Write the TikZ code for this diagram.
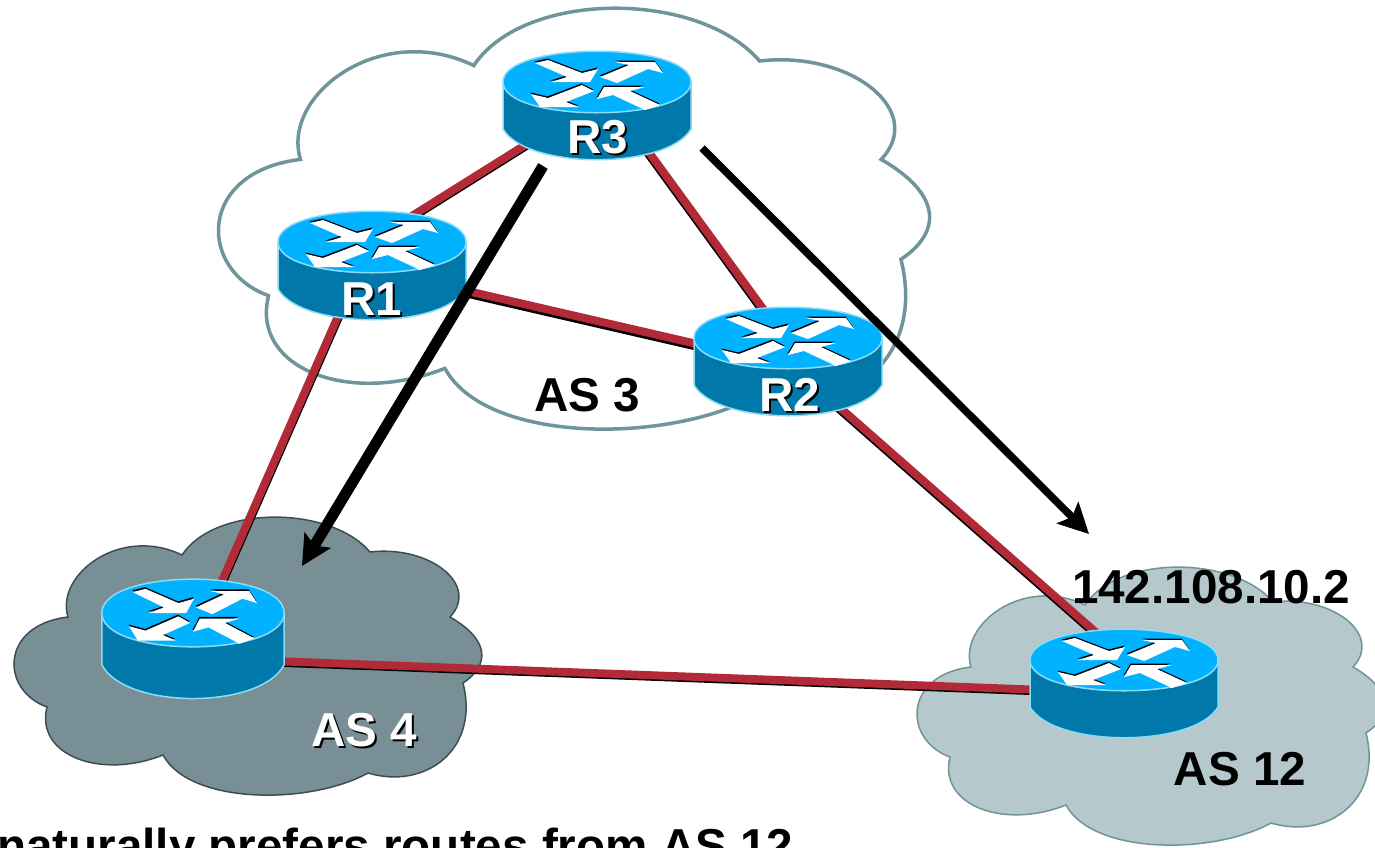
\documentclass[tikz,border=0pt]{standalone}
\usepackage{fontspec}
\setmainfont{Liberation Sans}
\usetikzlibrary{arrows.meta}
\definecolor{routertop}{RGB}{0,178,255}
\definecolor{routerbody}{RGB}{0,120,170}
\definecolor{routerrim}{RGB}{140,220,245}
\definecolor{linkred}{RGB}{178,42,56}
\definecolor{cloudedge}{RGB}{111,148,153}
\definecolor{darkcloud}{RGB}{120,143,150}
\definecolor{darkedge}{RGB}{60,78,84}
\definecolor{paleCloud}{RGB}{181,200,203}
% one outline for all three clouds
\newcommand\cloudoutline{(68,617) .. controls (55,575) and (120,525) .. (182,555)
  .. controls (215,505) and (330,505) .. (370,552)
  .. controls (430,545) and (480,585) .. (450,617)
  .. controls (490,640) and (490,665) .. (463,683)
  .. controls (480,750) and (425,790) .. (368,773)
  .. controls (310,805) and (190,805) .. (163,755)
  .. controls (100,780) and (35,755) .. (47,707)
  .. controls (0,690) and (0,625) .. (68,617) -- cycle}
\newcommand\routerarrows{(-62,-19) -- (-49,-22) -- (-15,-9) -- (1,-13) -- (-7,0) -- (-46,0) -- (-30,-5) -- cycle
  (3,-5) -- (32,-17) -- (18,-20) -- (58,-20) -- (66,-9) -- (51,-13) -- (20,1) -- cycle
  (-15,3) -- (-3,9) -- (-31,20) -- (-18,25) -- (-57,25) -- (-66,12) -- (-49,16) -- cycle
  (0,17) -- (7,5) -- (48,5) -- (33,9) -- (63,23) -- (48,28) -- (16,13) -- cycle}
\newcommand\shadowtext[1]{\rlap{\raisebox{-2pt}{\kern2pt\textcolor{black}{#1}}}\textcolor{white}{#1}}
\newcommand\wanlink[3]{%
  \draw[linkshade,transform canvas={shift={(#3)}}] (#1) -- (#2);
  \draw[linkfront] (#1) -- (#2);}
\tikzset{
  pics/routericon/.style={code={
    \draw[routerrim,fill=routerbody,line width=1.5pt] (-94,0) -- (94,0) -- (94,47)
      .. controls (70,88) and (-70,88) .. (-94,47) -- cycle;
    \draw[routerrim,fill=routertop,line width=1.5pt] (-94,0)
      .. controls (-94,-41) and (94,-41) .. (94,0)
      .. controls (94,41) and (-94,41) .. (-94,0) -- cycle;
    \fill[black,shift={(-.5,-1.5)}] \routerarrows;
    \fill[white] \routerarrows;
  }},
  routerbox/.style={rectangle, minimum width=189pt, minimum height=108pt, inner sep=0pt},
  linkshade/.style={draw=black, line width=5pt},
  linkfront/.style={draw=linkred, line width=8pt},
  flow/.style={draw=black, -{Stealth[length=30pt,width=30pt,inset=6pt]}},
  bigtext/.style={inner sep=0pt, font=\fontsize{47.6}{50}\selectfont\bfseries}
}
\begin{document}
\begin{tikzpicture}[x=1pt,y=-1pt]
    \useasboundingbox (0,0) rectangle (1375,847);
    \clip (0,0) rectangle (1375,847);

    % Clouds
    \draw[cloudedge,fill=white,line width=3.5pt,xscale=1.52,yscale=1.514,shift={(129.7,-511.7)}] \cloudoutline;
    \draw[darkedge,fill=darkcloud,line width=1.5pt] \cloudoutline;
    \draw[cloudedge,fill=paleCloud,line width=1.5pt,shift={(903,50)}] \cloudoutline;

    % Routers
    \node[routerbox] (r3) at (597,106) {};
    \node[routerbox] (r1) at (372,266) {};
    \node[routerbox] (r2) at (788,363) {};
    \node[routerbox] (r4) at (193,638) {};
    \node[routerbox] (r12) at (1124,682) {};

    % Links
    \wanlink{[yshift=6pt]r3.center}{[yshift=25pt]r1.center}{1.5,2.5}
    \wanlink{[yshift=25pt]r3.center}{[yshift=20pt]r2.center}{-2.5,1.8}
    \wanlink{[yshift=-3pt]r1.center}{[yshift=-2pt]r2.center}{-1,4}
    \wanlink{[xshift=-12pt]r1.center}{[xshift=4pt]r4.center}{2.5,1}
    \wanlink{[yshift=1pt]r2.center}{[yshift=25pt]r12.center}{-2,2.5}
    \wanlink{[yshift=-20pt]r4.center}{[yshift=-11pt]r12.center}{0,3}

    % Router icons
    \pic at (597,82) {routericon};
    \pic at (372,242) {routericon};
    \pic at (788,338) {routericon};
    \pic[xscale=.97,yscale=1.1] at (193,613) {routericon};
    \pic at (1124,660) {routericon};

    % Flows
    \coordinate (as4head) at (302,566);
    \coordinate (as12head) at (1089,534);
    \draw[flow,line width=11pt] ([xshift=-54pt,yshift=-60pt]r3.center) -- (as4head);
    \draw[flow,line width=7.5pt] ([xshift=105pt,yshift=-42pt]r3.center) -- (as12head);

    % Labels
    \node[bigtext] (r3label) at (598,138.5) {\shadowtext{R3}};
    \node[bigtext] (r1label) at (372,300) {\shadowtext{R1}};
    \node[bigtext] (r2label) at (790,396) {\shadowtext{R2}};
    \node[bigtext] (as3label) at (587,395) {AS 3};
    \node[bigtext] (as4label) at (364,731) {\shadowtext{AS 4}};
    \node[bigtext] (as12label) at (1240,769) {AS 12};
    \node[bigtext] (addrlabel) at (1211,587) {142.108.10.2};
    \node[bigtext,anchor=base west] (notelabel) at (-3,862) {naturally prefers routes from AS 12};
\end{tikzpicture}
\end{document}
